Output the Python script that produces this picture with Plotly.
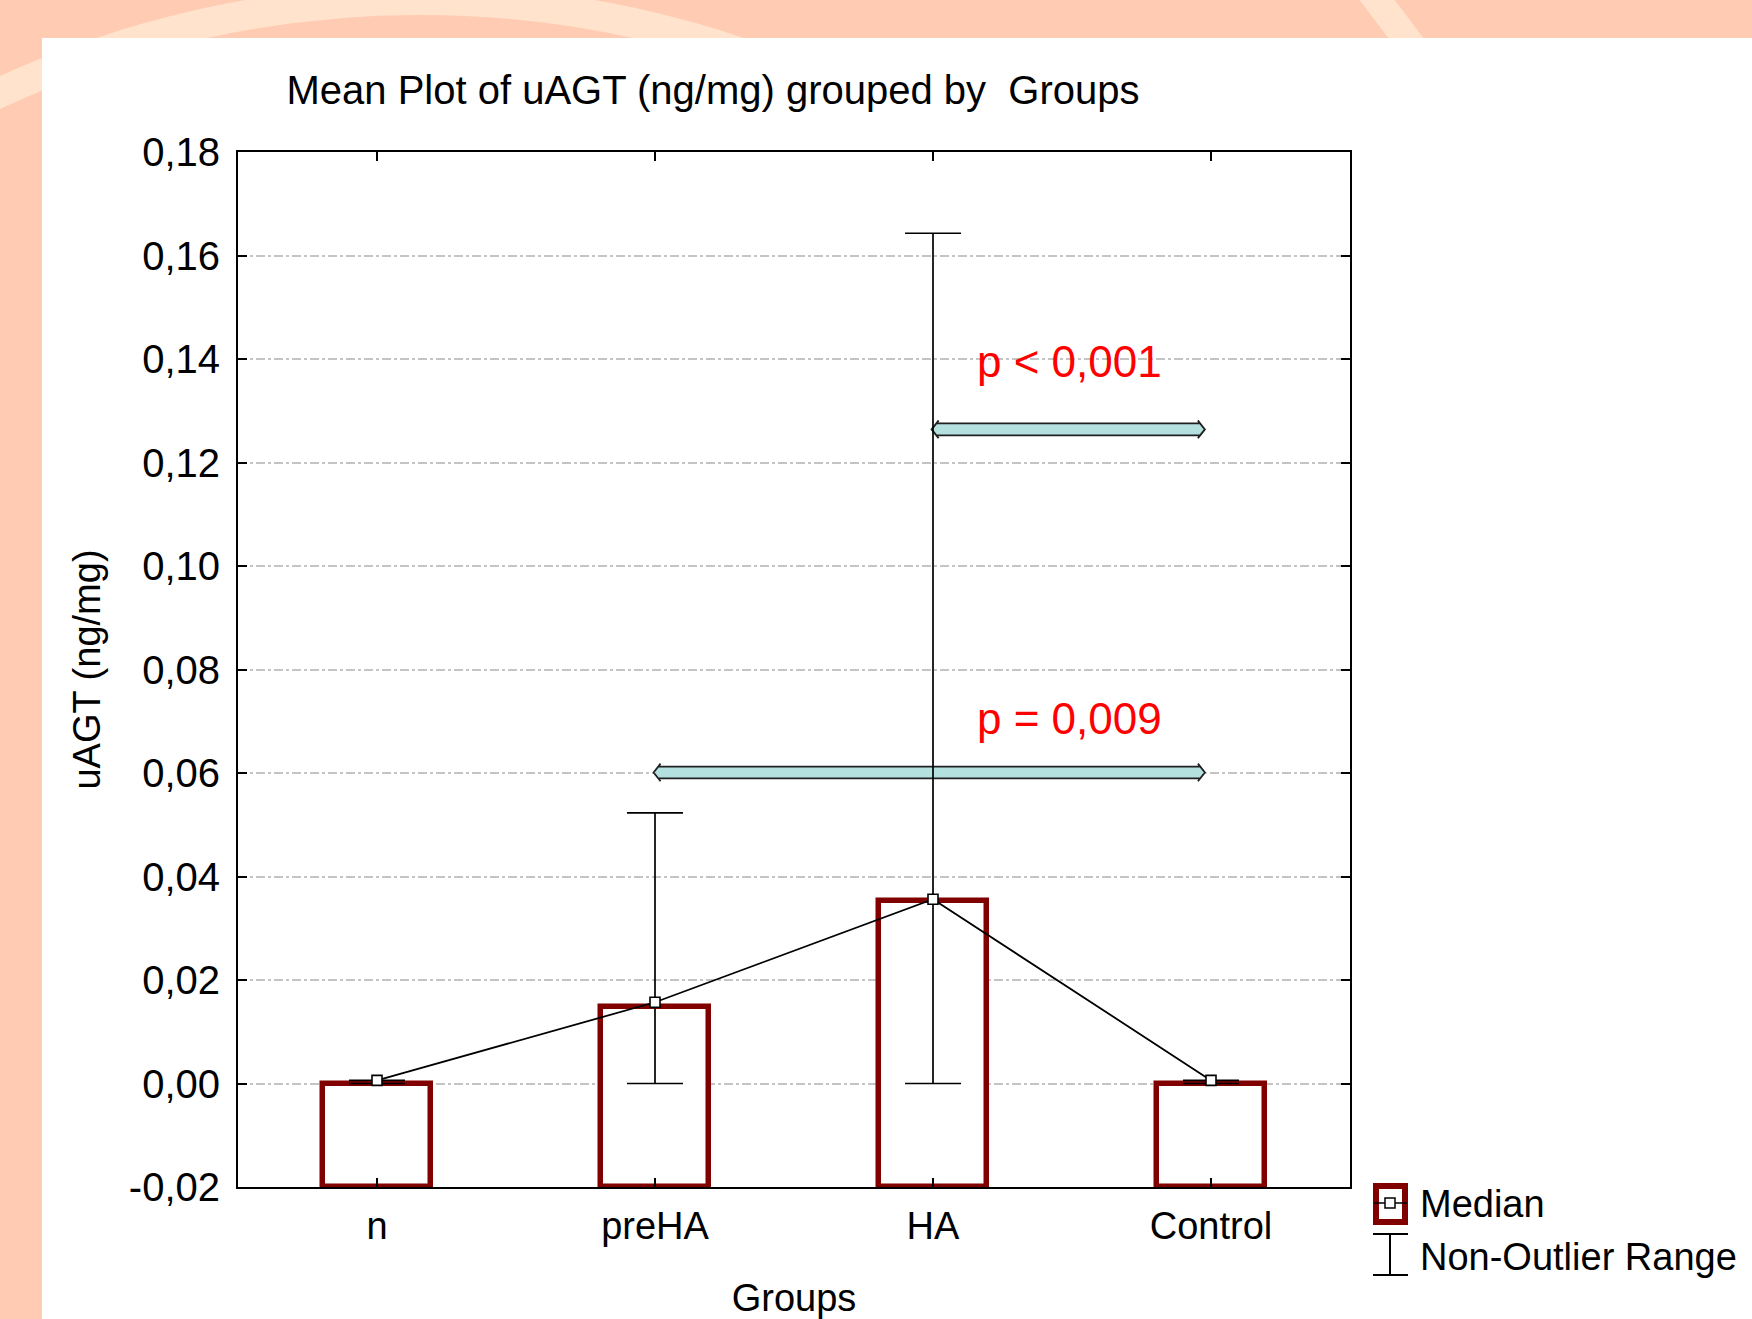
import plotly.graph_objects as go

# ---------------- data ----------------
groups = ["n", "preHA", "HA", "Control"]
bar_values = [0.0, 0.0148, 0.0352, 0.0]          # bar tops
medians = [0.0006, 0.0157, 0.0356, 0.0006]        # median markers
nonoutlier_min = [0.0, 0.0, 0.0, 0.0]
nonoutlier_max = [0.0006, 0.0523, 0.1643, 0.0006]
y_tickvals = [-0.02, 0.0, 0.02, 0.04, 0.06, 0.08, 0.10, 0.12, 0.14, 0.16, 0.18]
y_ticktext = ["-0,02", "0,00", "0,02", "0,04", "0,06", "0,08", "0,10", "0,12", "0,14", "0,16", "0,18"]
comparisons = [  # (from group, to group, y level, label)
    ("HA", "Control", 0.1264, "p < 0,001"),
    ("preHA", "Control", 0.0601, "p = 0,009"),
]
label_y = {"p < 0,001": 0.1395, "p = 0,009": 0.0705}
bar_base = -0.02

# ---------------- layout geometry ----------------
W, H = 1752, 1319
L, R, T, B = 238, 1350, 152, 1187
FONT = "Liberation Sans, Arial, sans-serif"
DARKRED = "#800000"


def px(x):
    return (x - L) / (R - L)


def py(y):
    return (B - y) / (B - T)


fig = go.Figure()

idx = {g: i for i, g in enumerate(groups)}

fig.add_trace(go.Bar(
    x=list(range(len(groups))),
    y=[v - bar_base for v in bar_values],
    base=bar_base,
    width=0.385,
    marker=dict(color="white", line=dict(color=DARKRED, width=5.5)),
    showlegend=False,
    hoverinfo="skip",
))

fig.add_trace(go.Scatter(
    x=list(range(len(groups))),
    y=medians,
    mode="lines+markers",
    line=dict(color="black", width=1.8),
    marker=dict(symbol="square", size=10, color="white", line=dict(color="black", width=1.6)),
    error_y=dict(
        type="data", symmetric=False,
        array=[mx - m for mx, m in zip(nonoutlier_max, medians)],
        arrayminus=[m - mn for m, mn in zip(medians, nonoutlier_min)],
        color="black", thickness=1.7, width=28,
    ),
    showlegend=False,
))

shapes = []
# background decoration
cx, cy, r = 420, 1000, 1000
shapes.append(dict(type="circle", xref="paper", yref="paper", layer="below",
                   x0=px(cx - r), x1=px(cx + r), y0=py(cy + r), y1=py(cy - r),
                   line=dict(color="#FFE3CC", width=30), fillcolor="rgba(0,0,0,0)"))
shapes.append(dict(type="line", xref="paper", yref="paper", layer="below",
                   x0=px(1362), y0=py(-20), x1=px(1421), y1=py(58),
                   line=dict(color="#FFE3CC", width=28)))
shapes.append(dict(type="rect", xref="paper", yref="paper", layer="below",
                   x0=px(42), x1=px(1800), y0=py(1400), y1=py(38),
                   fillcolor="white", line=dict(width=0)))

# comparison arrows (double-headed, outlined)
annotations = []
hh = 0.00115
hd = 0.0017
for g0, g1, yv, lab in comparisons:
    x0 = idx[g0] - 0.005
    x1 = idx[g1] - 0.022
    dx = 0.025
    path = (f"M {x0},{yv} L {x0+dx},{yv+hd} L {x0+dx*0.7},{yv+hh} L {x1-dx*0.7},{yv+hh} "
            f"L {x1-dx},{yv+hd} L {x1},{yv} L {x1-dx},{yv-hd} L {x1-dx*0.7},{yv-hh} "
            f"L {x0+dx*0.7},{yv-hh} L {x0+dx},{yv-hd} Z")
    shapes.append(dict(type="path", xref="x", yref="y", path=path, layer="between",
                       fillcolor="#B4E0E0", line=dict(color="#202020", width=1.8)))
    annotations.append(dict(x=(idx["HA"] + idx["Control"]) / 2 - 0.01, y=label_y[lab], xref="x", yref="y",
                            text=lab, showarrow=False,
                            font=dict(family=FONT, size=44, color="#FF0000")))

# manual legend
shapes.append(dict(type="rect", xref="paper", yref="paper", x0=px(1376), x1=px(1405), y0=py(1222), y1=py(1186),
                   fillcolor="white", line=dict(color=DARKRED, width=6)))
shapes.append(dict(type="line", xref="paper", yref="paper", x0=px(1374), x1=px(1407), y0=py(1203), y1=py(1203),
                   line=dict(color="black", width=1.5)))
shapes.append(dict(type="rect", xref="paper", yref="paper", x0=px(1385), x1=px(1395), y0=py(1208), y1=py(1198),
                   fillcolor="white", line=dict(color="black", width=1.5)))
shapes.append(dict(type="line", xref="paper", yref="paper", x0=px(1390), x1=px(1390), y0=py(1234), y1=py(1275),
                   line=dict(color="black", width=2)))
for yy in (1234, 1275):
    shapes.append(dict(type="line", xref="paper", yref="paper", x0=px(1373), x1=px(1408), y0=py(yy), y1=py(yy),
                       line=dict(color="black", width=2)))
annotations.append(dict(x=px(1418), y=py(1204), xref="paper", yref="paper", xanchor="left", yanchor="middle",
                        text="Median", showarrow=False, font=dict(family=FONT, size=38, color="black")))
annotations.append(dict(x=px(1418), y=py(1257), xref="paper", yref="paper", xanchor="left", yanchor="middle",
                        text="Non-Outlier Range", showarrow=False, font=dict(family=FONT, size=38, color="black")))

fig.update_layout(
    width=W, height=H,
    margin=dict(l=L, r=W - R, t=T, b=H - B, pad=0, autoexpand=False),
    paper_bgcolor="#FFCBB2",
    plot_bgcolor="white",
    font=dict(family=FONT, size=38, color="black"),
    title=dict(text="Mean Plot of uAGT (ng/mg) grouped by  Groups", x=px(713), xref="paper", xanchor="center",
               y=1 - 90 / H, yref="container", yanchor="middle",
               font=dict(family=FONT, size=40, color="black")),
    shapes=shapes,
    annotations=annotations,
    showlegend=False,
    bargap=0,
)

fig.update_xaxes(
    range=[-0.5, len(groups) - 0.5],
    tickvals=list(range(len(groups))), ticktext=groups,
    ticks="inside", ticklen=9, tickwidth=1.5, tickcolor="black",
    showline=True, linecolor="black", linewidth=2, mirror="ticks",
    showgrid=False, zeroline=False, automargin=False,
    ticklabelstandoff=4,
    tickfont=dict(size=38),
    title=dict(text="Groups", standoff=42, font=dict(size=38)),
)
fig.update_yaxes(
    range=[-0.02, 0.18],
    tickvals=y_tickvals, ticktext=y_ticktext,
    ticks="inside", ticklen=9, tickwidth=1.5, tickcolor="black",
    showline=True, linecolor="black", linewidth=2, mirror="ticks",
    showgrid=True, gridcolor="#C4C4C4", gridwidth=1.5, griddash="dashdot",
    zeroline=False, automargin=False,
    ticklabelstandoff=8,
    tickfont=dict(size=40),
    title=dict(text="uAGT (ng/mg)", standoff=17, font=dict(size=38)),
)

fig.write_html("out.html", config={"displayModeBar": False},
               post_script="document.body.style.margin='0px';")
